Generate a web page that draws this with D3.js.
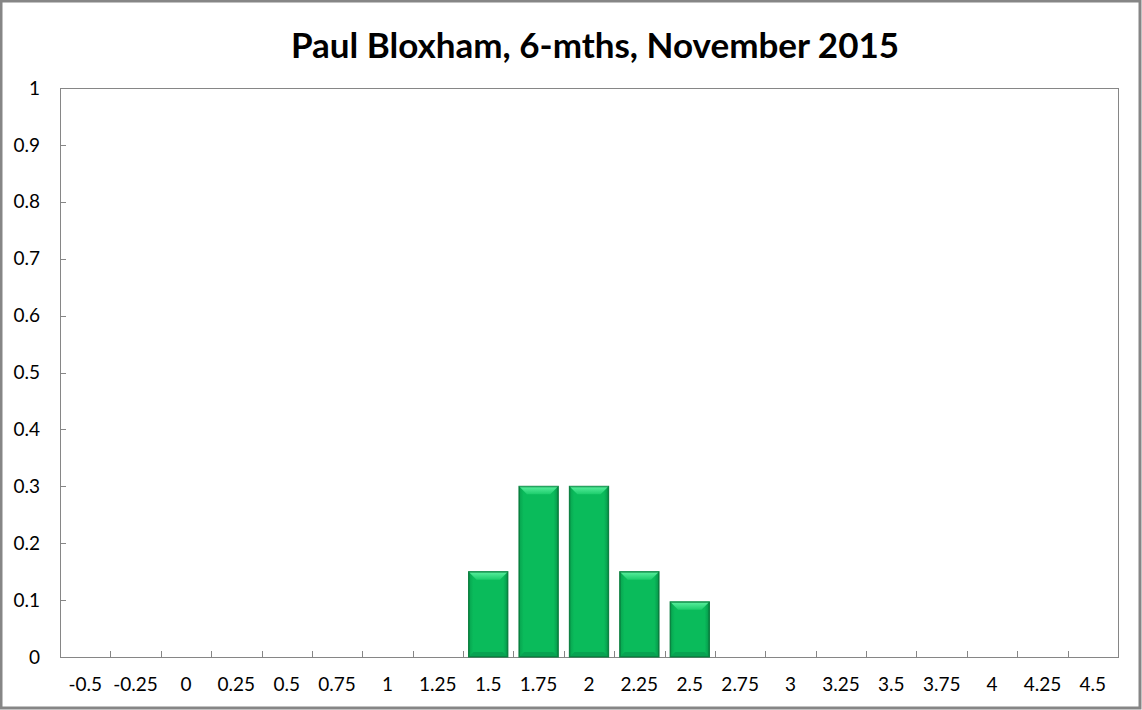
<!DOCTYPE html>
<html>
<head>
<meta charset="utf-8">
<script src="https://cdn.jsdelivr.net/npm/d3@7"></script>
<style>
  body { margin: 0; background: #fff; }
  text { font-family: Lato, "Open Sans", sans-serif; }
</style>
</head>
<body>
<div id="chart"></div>
<script>
// categories (x axis) and probabilities
var categories = ["-0.5","-0.25","0","0.25","0.5","0.75","1","1.25","1.5","1.75","2","2.25","2.5","2.75","3","3.25","3.5","3.75","4","4.25","4.5"];
var values = [0,0,0,0,0,0,0,0,0.15,0.3,0.3,0.15,0.097,0,0,0,0,0,0,0,0];
var yTicks = [0,0.1,0.2,0.3,0.4,0.5,0.6,0.7,0.8,0.9,1];
var title = "Paul Bloxham, 6-mths, November 2015";

var W = 1142, H = 710;
var margin = {top: 88, right: 24, bottom: 53, left: 60},
    width = W - margin.left - margin.right,
    height = H - margin.top - margin.bottom;

var svg = d3.select("#chart").append("svg")
    .attr("width", W)
    .attr("height", H);

// outer chart border
svg.append("rect")
    .attr("x", 1).attr("y", 1)
    .attr("width", W - 3).attr("height", H - 3)
    .attr("fill", "#fff")
    .attr("stroke", "#868686")
    .attr("stroke-width", 3);

svg.append("text")
    .attr("x", 595).attr("y", 58)
    .attr("text-anchor", "middle")
    .attr("font-size", "35px")
    .attr("font-weight", "bold")
    .attr("fill", "#000")
    .text(title);

var defs = svg.append("defs");
var grad = defs.append("linearGradient").attr("id", "barGrad")
    .attr("x1", 0).attr("x2", 1).attr("y1", 0).attr("y2", 0);
grad.append("stop").attr("offset", "0%").attr("stop-color", "#07a24e");
grad.append("stop").attr("offset", "12%").attr("stop-color", "#0abb5b");
grad.append("stop").attr("offset", "88%").attr("stop-color", "#0abb5b");
grad.append("stop").attr("offset", "100%").attr("stop-color", "#06964a");

var topGrad = defs.append("linearGradient").attr("id", "topGrad")
    .attr("x1", 0).attr("x2", 0).attr("y1", 0).attr("y2", 1);
topGrad.append("stop").attr("offset", "0%").attr("stop-color", "#5cf0a0");
topGrad.append("stop").attr("offset", "100%").attr("stop-color", "#1ccd6c");

var g = svg.append("g")
    .attr("transform", "translate(" + margin.left + "," + margin.top + ")");

var x = d3.scaleBand().domain(categories).range([0, width]).paddingInner(0.22).paddingOuter(0.11);
var xb = d3.scaleBand().domain(categories).range([0, width]);
var y = d3.scaleLinear().domain([0, 1]).range([height, 0]);

// plot area frame
g.append("rect")
    .attr("x", 0.5).attr("y", 0.5)
    .attr("width", width).attr("height", height)
    .attr("fill", "none")
    .attr("stroke", "#868686");

// y axis ticks (inside) and labels
g.selectAll(".ytick").data(yTicks).enter().append("line")
    .attr("x1", 0).attr("x2", 6)
    .attr("y1", function(d) { return Math.round(y(d)) + 0.5; })
    .attr("y2", function(d) { return Math.round(y(d)) + 0.5; })
    .attr("stroke", "#868686");
g.selectAll(".ylab").data(yTicks).enter().append("text")
    .attr("x", -20)
    .attr("y", function(d) { return y(d); })
    .attr("dy", "0.35em")
    .attr("text-anchor", "end")
    .attr("font-size", "19px")
    .attr("fill", "#000")
    .text(function(d) { return d; });

// x axis ticks at band boundaries (inside)
var bounds = categories.slice(1).map(function(c) { return xb(c); });
g.selectAll(".xtick").data(bounds).enter().append("line")
    .attr("x1", function(d) { return Math.round(d) + 0.5; })
    .attr("x2", function(d) { return Math.round(d) + 0.5; })
    .attr("y1", height).attr("y2", height - 6)
    .attr("stroke", "#868686");
g.selectAll(".xlab").data(categories).enter().append("text")
    .attr("x", function(d) { return xb(d) + xb.bandwidth() / 2; })
    .attr("y", height + 34)
    .attr("text-anchor", "middle")
    .attr("font-size", "19px")
    .attr("fill", "#000")
    .text(function(d) { return d; });

// bars with a bevel look
var data = categories.map(function(c, i) { return {cat: c, v: values[i]}; }).filter(function(d) { return d.v > 0; });
var bar = g.selectAll(".bar").data(data).enter().append("g").attr("class", "bar");

bar.append("rect")
    .attr("x", function(d) { return x(d.cat); })
    .attr("y", function(d) { return y(d.v); })
    .attr("width", x.bandwidth())
    .attr("height", function(d) { return height - y(d.v); })
    .attr("fill", "url(#barGrad)")
    .attr("stroke", "#0a7d3e")
    .attr("stroke-width", 1);

// top bevel
bar.append("path")
    .attr("d", function(d) {
        var x0 = x(d.cat), x1 = x0 + x.bandwidth(), t = y(d.v), b = 8;
        return "M" + x0 + "," + t + "L" + x1 + "," + t + "L" + (x1 - b) + "," + (t + b) + "L" + (x0 + b) + "," + (t + b) + "Z";
    })
    .attr("fill", "url(#topGrad)")
    .attr("stroke", "none");

// bottom bevel
bar.append("path")
    .attr("d", function(d) {
        var x0 = x(d.cat), x1 = x0 + x.bandwidth(), bt = height, b = 5;
        return "M" + x0 + "," + bt + "L" + x1 + "," + bt + "L" + (x1 - b) + "," + (bt - b) + "L" + (x0 + b) + "," + (bt - b) + "Z";
    })
    .attr("fill", "#08a352")
    .attr("stroke", "none");

bar.append("rect")
    .attr("x", function(d) { return x(d.cat) + 0.5; })
    .attr("y", function(d) { return y(d.v) + 0.5; })
    .attr("width", x.bandwidth() - 1)
    .attr("height", function(d) { return height - y(d.v) - 1; })
    .attr("fill", "none")
    .attr("stroke", "#0a7d3e")
    .attr("stroke-opacity", 0.8);
</script>
</body>
</html>
